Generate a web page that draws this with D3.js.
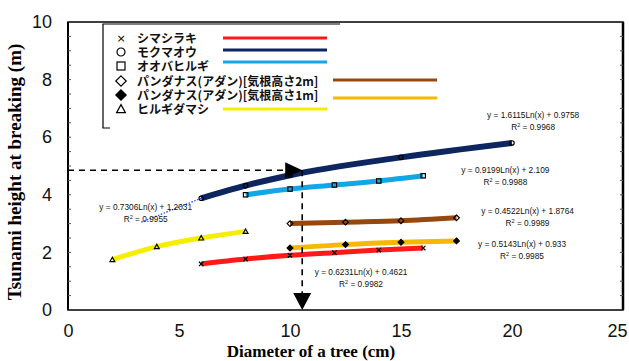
<!DOCTYPE html>
<html>
<head>
<meta charset="utf-8">
<script src="https://cdn.jsdelivr.net/npm/d3@7"></script>
<style>
  body { margin: 0; background: #fff; }
  svg { display: block; }
</style>
</head>
<body>
<svg id="chart" width="629" height="361"></svg>
<script>
// tree species (legend order)
const species = ['シマシラキ', 'モクマオウ', 'オオバヒルギ', 'パンダナス(アダン)[気根高さ2m]', 'パンダナス(アダン)[気根高さ1m]', 'ヒルギダマシ'];
const seriesColors = ['#ff1a1a', '#0d2660', '#12a6e6', '#97480f', '#f6b800', '#f5ee00'];
const seriesSymbols = ['cross', 'circle', 'square', 'diamond', 'diamondFill', 'triangle'];

// diameter (cm) / tsunami height (m)
const shimaX = [6, 8, 10, 12, 14, 16];
const shimaY = [1.6, 1.77, 1.9, 1.99, 2.08, 2.15];
const mokuX = [6, 8, 10, 15, 20];
const mokuY = [3.88, 4.32, 4.68, 5.3, 5.8];
const oobaX = [8, 10, 12, 14, 16];
const oobaY = [4.0, 4.2, 4.34, 4.48, 4.66];
const pand2X = [10, 12.5, 15, 17.5];
const pand2Y = [3.0, 3.05, 3.1, 3.2];
const pand1X = [10, 12.5, 15, 17.5];
const pand1Y = [2.15, 2.27, 2.35, 2.4];
const hiruX = [2, 4, 6, 8];
const hiruY = [1.75, 2.2, 2.5, 2.73];

// dotted extension of モクマオウ
const extX = [3.3, 6];
const extY = [3.05, 3.88];

// regression labels
const fitLabels = [
  { eq: 'y = 0.6231Ln(x) + 0.4621', r2: '0.9982', x: 13.2, y: 1.2 },
  { eq: 'y = 1.6115Ln(x) + 0.9758', r2: '0.9968', x: 20.95, y: 6.65 },
  { eq: 'y = 0.9199Ln(x) + 2.109', r2: '0.9988', x: 19.7, y: 4.75 },
  { eq: 'y = 0.4522Ln(x) + 1.8764', r2: '0.9989', x: 20.7, y: 3.35 },
  { eq: 'y = 0.5143Ln(x) + 0.933', r2: '0.9985', x: 20.45, y: 2.2 },
  { eq: 'y = 0.7306Ln(x) + 1.2031', r2: '0.9955', x: 3.5, y: 3.48 }
];

// reading guide (arrow)
const guideX = 10.55;
const guideY = 4.85;

const xTicks = [0, 5, 10, 15, 20, 25];
const yTicks = [0, 2, 4, 6, 8, 10];

const series = [
  { xs: shimaX, ys: shimaY },
  { xs: mokuX, ys: mokuY },
  { xs: oobaX, ys: oobaY },
  { xs: pand2X, ys: pand2Y },
  { xs: pand1X, ys: pand1Y },
  { xs: hiruX, ys: hiruY }
].map((s, i) => ({
  name: species[i],
  color: seriesColors[i],
  symbol: seriesSymbols[i],
  pts: s.xs.map((x, j) => ({ x: x, y: s.ys[j] }))
}));

const svg = d3.select('#chart');
const margin = { left: 68, top: 22, right: 6, bottom: 51 };
const W = 629, H = 361;

const x = d3.scaleLinear().domain([0, 25]).range([margin.left, W - margin.right]);
const y = d3.scaleLinear().domain([0, 10]).range([H - margin.bottom, margin.top]);

// plot frame
svg.append('rect')
  .attr('x', x(0)).attr('y', y(10))
  .attr('width', x(25) - x(0)).attr('height', y(0) - y(10))
  .attr('fill', 'none').attr('stroke', '#000').attr('stroke-width', 1.5);
svg.append('line')
  .attr('x1', x(0)).attr('x2', x(0)).attr('y1', y(10)).attr('y2', y(0))
  .attr('stroke', '#000').attr('stroke-width', 2);
svg.append('line')
  .attr('x1', x(25)).attr('x2', x(25)).attr('y1', y(10)).attr('y2', y(0))
  .attr('stroke', '#000').attr('stroke-width', 2.5);

// minor ticks on both y sides
const minor = d3.range(0.5, 10, 0.5);
svg.append('g').selectAll('line').data(minor).enter().append('line')
  .attr('x1', x(0)).attr('x2', x(0) + 3)
  .attr('y1', d => y(d)).attr('y2', d => y(d))
  .attr('stroke', '#555').attr('stroke-width', 1);
svg.append('g').selectAll('line').data(minor).enter().append('line')
  .attr('x1', x(25)).attr('x2', x(25) - 3)
  .attr('y1', d => y(d)).attr('y2', d => y(d))
  .attr('stroke', '#555').attr('stroke-width', 1);

// axes (labels only, the frame draws the lines)
const xAxis = svg.append('g')
  .attr('transform', `translate(0,${y(0)})`)
  .call(d3.axisBottom(x).tickValues(xTicks).tickSize(0).tickPadding(14));
const yAxis = svg.append('g')
  .attr('transform', `translate(${x(0)},0)`)
  .call(d3.axisLeft(y).tickValues(yTicks).tickSize(0).tickPadding(16));
[xAxis, yAxis].forEach(a => {
  a.select('.domain').remove();
  a.selectAll('text')
    .attr('font-family', 'Liberation Sans, Arial, sans-serif')
    .attr('font-size', 18).attr('fill', '#111');
});
// last x label hugs the right edge
xAxis.selectAll('text').filter(d => d === 25).attr('text-anchor', 'end').attr('dx', 4);

svg.append('text')
  .attr('x', 311).attr('y', 357)
  .attr('text-anchor', 'middle')
  .attr('font-family', 'Liberation Serif, Times New Roman, serif')
  .attr('font-weight', 'bold').attr('font-size', 17)
  .text('Diameter of a tree (cm)');
svg.append('text')
  .attr('transform', 'translate(21,172) rotate(-90)')
  .attr('text-anchor', 'middle')
  .attr('font-family', 'Liberation Serif, Times New Roman, serif')
  .attr('font-weight', 'bold').attr('font-size', 19)
  .text('Tsunami height at breaking (m)');

// dotted extension
svg.append('path')
  .datum(extX.map((v, i) => ({ x: v, y: extY[i] })))
  .attr('d', d3.line().x(d => x(d.x)).y(d => y(d.y)))
  .attr('fill', 'none').attr('stroke', '#1f3cff')
  .attr('stroke-width', 1.2).attr('stroke-dasharray', '1.5,1.5');

// trend lines
const line = d3.line().x(d => x(d.x)).y(d => y(d.y)).curve(d3.curveMonotoneX);
svg.append('g').selectAll('path').data(series).enter().append('path')
  .attr('d', d => line(d.pts))
  .attr('fill', 'none')
  .attr('stroke', d => d.color)
  .attr('stroke-width', (d, i) => i === 1 ? 6 : 5)
  .attr('stroke-linecap', 'butt');

// markers
function drawSymbol(g, type, size) {
  const s = size;
  if (type === 'cross') {
    g.append('path').attr('d', `M${-s},${-s}L${s},${s}M${-s},${s}L${s},${-s}`)
      .attr('stroke', '#000').attr('stroke-width', 1.2);
  } else if (type === 'circle') {
    g.append('circle').attr('r', s).attr('fill', 'none').attr('stroke', '#000').attr('stroke-width', 1.2);
  } else if (type === 'square') {
    g.append('rect').attr('x', -s).attr('y', -s).attr('width', 2 * s).attr('height', 2 * s)
      .attr('fill', 'none').attr('stroke', '#000').attr('stroke-width', 1.2);
  } else if (type === 'diamond' || type === 'diamondFill') {
    g.append('path').attr('d', `M0,${-s * 1.3}L${s * 1.3},0L0,${s * 1.3}L${-s * 1.3},0Z`)
      .attr('fill', type === 'diamondFill' ? '#000' : 'none')
      .attr('stroke', '#000').attr('stroke-width', 1.2);
  } else if (type === 'triangle') {
    g.append('path').attr('d', `M0,${-s * 1.1}L${s * 1.1},${s * 0.9}L${-s * 1.1},${s * 0.9}Z`)
      .attr('fill', 'none').attr('stroke', '#000').attr('stroke-width', 1.2);
  }
}
series.forEach(s => {
  s.pts.forEach(p => {
    const g = svg.append('g').attr('transform', `translate(${x(p.x)},${y(p.y)})`);
    drawSymbol(g, s.symbol, 2.2);
  });
});

// reading guide arrows
svg.append('line')
  .attr('x1', x(0)).attr('x2', x(guideX) - 16)
  .attr('y1', y(guideY)).attr('y2', y(guideY))
  .attr('stroke', '#000').attr('stroke-width', 1.6).attr('stroke-dasharray', '6,5');
svg.append('path')
  .attr('d', `M${x(guideX)},${y(guideY)}l-17,-8l0,16Z`)
  .attr('fill', '#000');
svg.append('line')
  .attr('x1', x(guideX)).attr('x2', x(guideX))
  .attr('y1', y(guideY)).attr('y2', y(0) - 16)
  .attr('stroke', '#000').attr('stroke-width', 1.6).attr('stroke-dasharray', '6,5');
svg.append('path')
  .attr('d', `M${x(guideX)},${y(0)}l-9,-17l18,0Z`)
  .attr('fill', '#000');

// regression labels
const fit = svg.append('g').attr('font-family', 'Liberation Sans, Arial, sans-serif')
  .attr('font-size', 8.3).attr('fill', '#111').attr('text-anchor', 'middle');
fitLabels.forEach(f => {
  fit.append('text').attr('x', x(f.x)).attr('y', y(f.y)).text(f.eq);
  const r = fit.append('text').attr('x', x(f.x)).attr('y', y(f.y) + 12);
  r.append('tspan').text('R');
  r.append('tspan').attr('dy', -3).attr('font-size', 5.5).text('2');
  r.append('tspan').attr('dy', 3).text(' = ' + f.r2);
});

// legend
const lg = svg.append('g');
lg.append('path')
  .attr('d', 'M110,128L103,128L103,24L340,24')
  .attr('fill', 'none').attr('stroke', '#000').attr('stroke-width', 1.2);
const rowY = [38, 52, 66, 81, 95, 109];
const lineY = [38, 50, 62, 80, 98, 109];
const lineX = [[223, 327], [223, 327], [223, 327], [333, 437], [333, 437], [223, 327]];
series.forEach((s, i) => {
  const g = lg.append('g').attr('transform', `translate(121,${rowY[i]})`);
  if (s.symbol === 'cross') {
    g.append('text').attr('y', 4).attr('text-anchor', 'middle')
      .attr('font-size', 11).attr('font-family', 'DejaVu Sans').text('×');
  } else {
    drawSymbol(g, s.symbol, 4);
  }
  lg.append('text')
    .attr('x', 137).attr('y', rowY[i] + 4.5)
    .attr('font-family', 'Noto Sans CJK JP, sans-serif')
    .attr('font-size', 12).attr('font-weight', 'bold').attr('fill', '#111')
    .text(s.name);
  lg.append('line')
    .attr('x1', lineX[i][0]).attr('x2', lineX[i][1])
    .attr('y1', lineY[i]).attr('y2', lineY[i])
    .attr('stroke', s.color).attr('stroke-width', 3);
});
</script>
</body>
</html>
